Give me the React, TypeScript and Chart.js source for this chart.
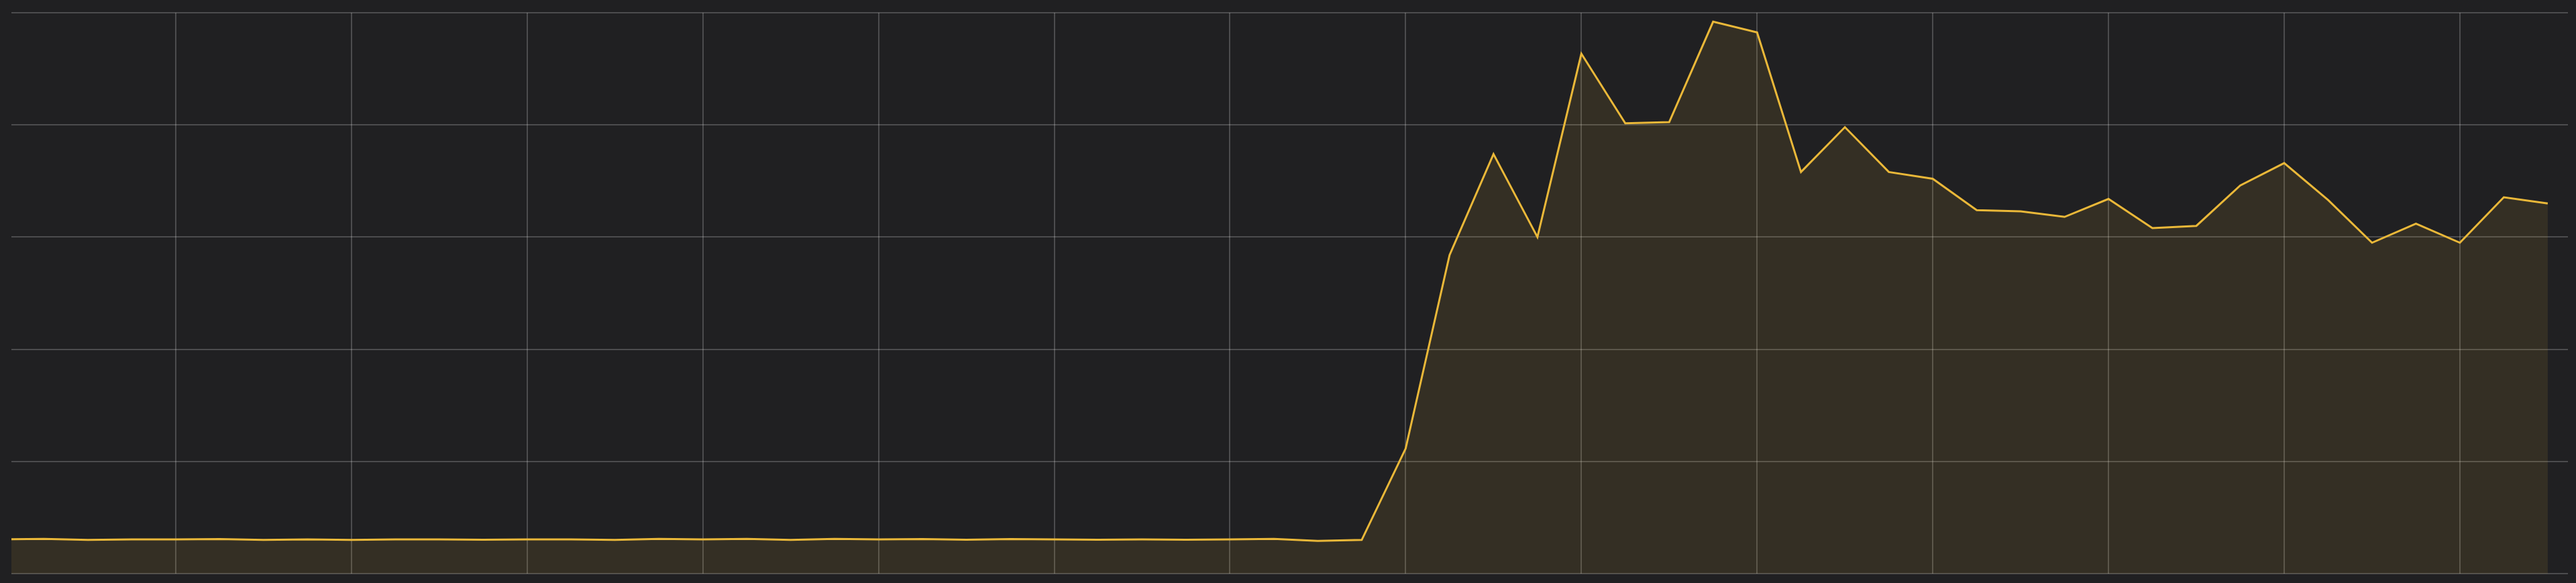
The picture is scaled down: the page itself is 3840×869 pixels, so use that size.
import React, { useEffect, useRef } from 'react';
import Chart from 'chart.js/auto';

// One sample every 15 min; slot 0 lines up with the first vertical grid line.
const firstSlot = -4;
const samples = [
  30.5, 31, 30, 30.5, 30.5, 30.8, 30, 30.5, 30, 30.5,
  30.5, 30.2, 30.5, 30.5, 30, 31, 30.5, 31, 30, 31,
  30.5, 30.8, 30.2, 30.8, 30.5, 30.2, 30.5, 30.2, 30.5, 31,
  29.2, 30, 111.5, 284, 374, 300, 463.5, 401.5, 402.5, 492,
  482.5, 358, 398, 358, 352, 324, 323, 318, 334, 308,
  310, 346, 366, 333, 295, 312, 295, 335.5, 330,
];

// vertical grid every hour (4 slots), horizontal grid every 100
const hourMarks = [0, 4, 8, 12, 16, 20, 24, 28, 32, 36, 40, 44, 48, 52];
const valueMarks = [0, 100, 200, 300, 400, 500];

const X_MIN = -3.74;
const X_MAX = 54.46;

const App: React.FC = () => {
  const canvasRef = useRef<HTMLCanvasElement>(null);
  const chartRef = useRef<Chart | null>(null);

  useEffect(() => {
    if (!canvasRef.current) return;
    if (chartRef.current) chartRef.current.destroy();

    const points = samples.map((v, i) => ({ x: firstSlot + i, y: v }));

    chartRef.current = new Chart(canvasRef.current, {
      type: 'line',
      data: {
        datasets: [{
          data: points,
          borderColor: '#EAB839',
          borderWidth: 3,
          backgroundColor: 'rgba(234, 184, 57, 0.1)',
          fill: 'origin',
          pointRadius: 0,
          tension: 0,
        }]
      },
      options: {
        animation: false,
        responsive: true,
        maintainAspectRatio: false,
        layout: { padding: { left: 17, top: 19, right: 12, bottom: 14 } },
        plugins: {
          legend: { display: false },
          tooltip: { enabled: false },
        },
        scales: {
          x: {
            type: 'linear',
            min: X_MIN,
            max: X_MAX,
            afterBuildTicks: (axis) => {
              axis.ticks = hourMarks.map(v => ({ value: v }));
            },
            grid: { color: 'rgba(255, 255, 255, 0.2)', lineWidth: 2, drawTicks: false },
            border: { display: false },
            ticks: { display: false },
          },
          y: {
            min: valueMarks[0],
            max: valueMarks[valueMarks.length - 1],
            afterBuildTicks: (axis) => {
              axis.ticks = valueMarks.map(v => ({ value: v }));
            },
            grid: { color: 'rgba(255, 255, 255, 0.2)', lineWidth: 2, drawTicks: false },
            border: { display: false },
            ticks: { display: false },
          }
        }
      }
    });

    return () => {
      if (chartRef.current) {
        chartRef.current.destroy();
        chartRef.current = null;
      }
    };
  }, []);

  return (
    <div style={{ position: 'fixed', left: 0, top: 0, width: '3840px', height: '869px', background: '#202022' }}>
      <canvas ref={canvasRef} />
    </div>
  );
};

export default App;
